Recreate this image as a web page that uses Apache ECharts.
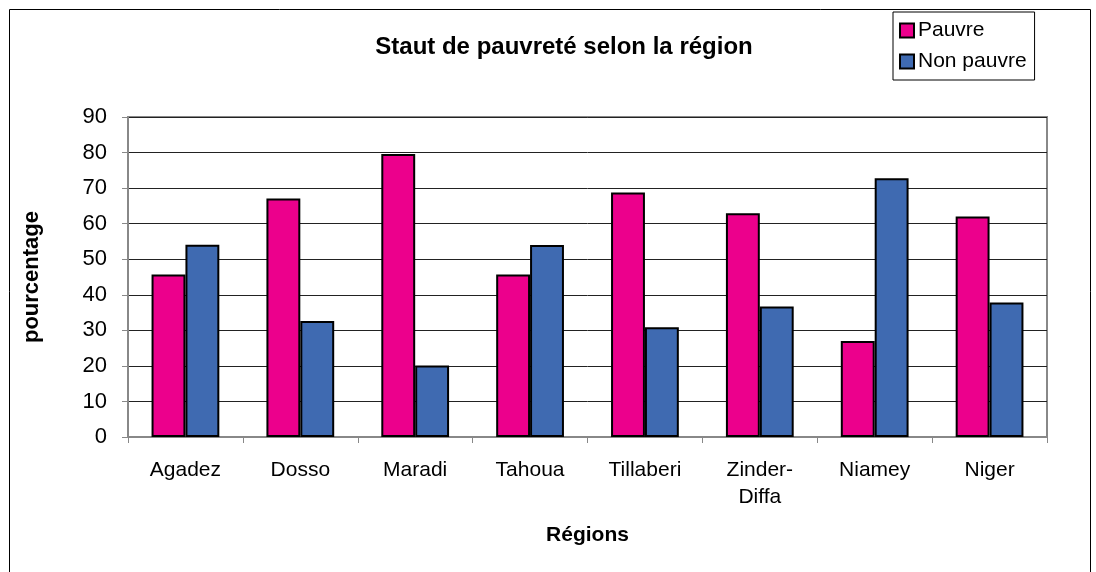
<!DOCTYPE html>
<html>
<head>
<meta charset="utf-8">
<script src="https://cdn.jsdelivr.net/npm/echarts@6/dist/echarts.min.js"></script>
<style>
html,body{margin:0;padding:0;background:#fff;}
#chart{width:1096px;height:572px;}
</style>
</head>
<body>
<div id="chart"></div>
<script>
var regions = ['Agadez', 'Dosso', 'Maradi', 'Tahoua', 'Tillaberi', 'Zinder-\nDiffa', 'Niamey', 'Niger'];
var pauvre = [45.7, 67.1, 79.6, 45.7, 68.8, 62.9, 27.0, 62.0];
var nonPauvre = [54.1, 32.6, 20.1, 54.0, 30.9, 36.7, 72.8, 37.8];

var font = '"Liberation Sans", Arial, sans-serif';

var chart = echarts.init(document.getElementById('chart'));
chart.setOption({
    backgroundColor: '#fff',
    animation: false,
    textStyle: {fontFamily: font},
    title: {
        text: 'Staut de pauvreté selon la région',
        left: 559, top: 30, textAlign: 'center',
        textStyle: {fontSize: 24, fontWeight: 'bold', color: '#000', fontFamily: font}
    },
    legend: {
        orient: 'vertical',
        left: 893, top: 12,
        itemWidth: 14, itemHeight: 14, itemGap: 10,
        padding: [8, 8, 8, 6],
        borderColor: '#000', borderWidth: 1,
        icon: 'rect',
        textStyle: {fontSize: 21, color: '#000', fontFamily: font, padding: [0, 0, 0, -1]},
        data: ['Pauvre', 'Non pauvre']
    },
    grid: {
        left: 128, right: 49, top: 117, bottom: 135,
        show: true, borderColor: '#888', borderWidth: 2
    },
    xAxis: {
        type: 'category',
        data: regions,
        name: 'Régions',
        nameLocation: 'middle',
        nameGap: 88,
        nameTextStyle: {fontSize: 21, fontWeight: 'bold', color: '#000', fontFamily: font},
        axisLine: {lineStyle: {color: '#888', width: 2}},
        axisTick: {show: true, length: 6, lineStyle: {color: '#888'}},
        axisLabel: {fontSize: 21, color: '#000', margin: 20, lineHeight: 27, fontFamily: font}
    },
    yAxis: {
        type: 'value',
        min: 0, max: 90, interval: 10,
        name: 'pourcentage',
        nameLocation: 'middle',
        nameGap: 85,
        nameRotate: 90,
        nameTextStyle: {fontSize: 22, fontWeight: 'bold', color: '#000', fontFamily: font},
        axisLine: {show: true, lineStyle: {color: '#888', width: 2}},
        axisTick: {show: true, length: 6, lineStyle: {color: '#888'}},
        axisLabel: {fontSize: 22, color: '#000', margin: 21, fontFamily: font},
        splitLine: {lineStyle: {color: '#222', width: 1}}
    },
    series: [
        {
            name: 'Pauvre', type: 'bar', data: pauvre,
            barGap: '0%', barCategoryGap: '41%',
            itemStyle: {color: '#EC008C', borderColor: '#000', borderWidth: 2}
        },
        {
            name: 'Non pauvre', type: 'bar', data: nonPauvre,
            barGap: '0%', barCategoryGap: '41%',
            itemStyle: {color: '#3F6AB1', borderColor: '#000', borderWidth: 2}
        }
    ],
    graphic: [{
        type: 'rect',
        shape: {x: 9.5, y: 9.5, width: 1081, height: 600},
        style: {fill: null, stroke: '#000', lineWidth: 1},
        silent: true
    }]
});
</script>
</body>
</html>
